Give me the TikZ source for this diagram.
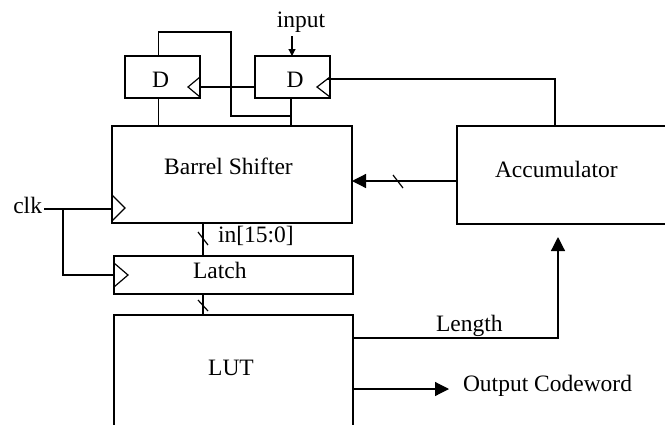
\documentclass[tikz,border=0pt]{standalone}
\usepackage{fontspec}
\setmainfont{Liberation Serif}
\usetikzlibrary{arrows.meta,calc}
\begin{document}
\begin{tikzpicture}[x=1pt,y=-1pt, line width=1.2pt,
  blk/.style={draw, rectangle, inner sep=0pt, outer sep=0pt, anchor=north west},
  lbl/.style={inner sep=0pt, outer sep=0pt, font=\fontsize{23.5}{28}\selectfont},
  bigarrow/.style={-{Triangle[length=14pt,width=14pt]}},
  smallarrow/.style={-{Triangle[length=7pt,width=7pt]}},
  ]
\clip (0,0) rectangle (665,424);
% blocks
\node[blk, minimum width=75pt, minimum height=42pt] (d1) at (125,56) {};
\node[blk, minimum width=75pt, minimum height=42pt] (d2) at (255,56) {};
\node[blk, minimum width=240pt, minimum height=97pt] (bs) at (112,126) {};
\node[blk, minimum width=260pt, minimum height=98pt] (acc) at (457,126) {};
\node[blk, minimum width=239pt, minimum height=38pt] (latch) at (114,256) {};
\node[blk, minimum width=239pt, minimum height=130pt] (lut) at (114,315) {};
% labels
\node[lbl, anchor=base] (d1t) at (160.5,87) {D};
\node[lbl, anchor=base] (d2t) at (295,87) {D};
\node[lbl, anchor=base] (bst) at (228.5,174) {Barrel Shifter};
\node[lbl, anchor=base west] (acct) at (495,177) {Accumulator};
\node[lbl, anchor=base west] (latcht) at (193,278) {Latch};
\node[lbl, anchor=base] (lutt) at (231,375) {LUT};
\node[lbl, anchor=base] (inp) at (301,27) {input};
\node[lbl, anchor=base east] (clk) at (42,213) {clk};
\node[lbl, anchor=base west] (bus) at (218,242) {in[15:0]};
\node[lbl, anchor=base west] (len) at (436,331) {Length};
\node[lbl, anchor=base west] (outc) at (463,391) {Output Codeword};
% clock triangles
\draw ($(d1.north east)+(0,21)$) -- ++(-12,10) -- ++(12,10);
\draw ($(d2.north east)+(0,21)$) -- ++(-13,10) -- ++(13,10);
\draw ($(bs.north west)+(0,69)$) -- ++(13,13) -- ++(-13,13);
\draw ($(latch.north west)+(0,7)$) -- ++(14,12) -- ++(-14,12);
% coordinates
\coordinate (d1top) at ($(d1.north west)+(33.5,0)$);
\coordinate (d1bot) at ($(d1.south west)+(33.5,0)$);
\coordinate (d2top) at ($(d2.north west)+(37,0)$);
\coordinate (d2bot) at ($(d2.south west)+(36,0)$);
\coordinate (fbA) at (158.5,32);
\coordinate (fbB) at (231,116);
\coordinate (fbC) at (291,116);
\coordinate (inA) at (292,36);
\coordinate (c2) at (327.4,79);
\coordinate (accclk) at ($(acc.north west)+(98,0)$);
\coordinate (clkA) at (44,209);
\coordinate (clkB) at (63,209);
\coordinate (busA) at (203,223);
\coordinate (lenEnd) at (558,237);
% D flip-flop wiring
\draw (d1top) -- (fbA) -| (fbB) -- (fbC);
\draw (d1bot) -- (d1bot |- bs.north);
\draw (d2bot) -- (d2bot |- bs.north);
\draw (d2.west |- 0,87) -- (d1.east |- 0,87);
\draw[smallarrow] (inA) -- (d2top);
\draw (c2) -| (accclk);
% accumulator -> barrel shifter
\draw[bigarrow] (acc.west |- 0,181) -- (bs.east |- 0,181);
\draw (393,175) -- (403,188);
% clock
\draw (clkA) -- (bs.west |- clkA);
\draw (clkB) |- (latch.west |- 0,275);
% buses
\draw (busA) -- (busA |- latch.north);
\draw (198,232) -- (208,245);
\draw (latch.south -| busA) -- (lut.north -| busA);
\draw (198,300) -- (208,311);
% LUT outputs
\draw[bigarrow] (lut.east |- 0,338) -| (lenEnd);
\draw[bigarrow] (lut.east |- 0,389) -- (449,389);
\end{tikzpicture}
\end{document}
